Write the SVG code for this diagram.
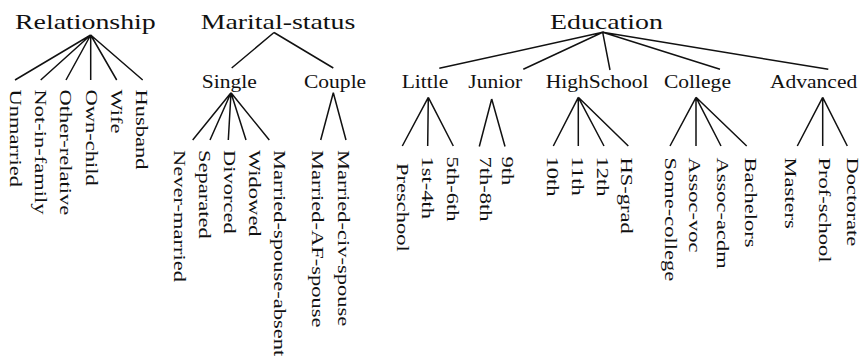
<svg xmlns="http://www.w3.org/2000/svg" width="861" height="361" viewBox="0 0 861 361">
<style>
text{font-family:"Liberation Serif","Times New Roman",serif;fill:#111}
.title{font-size:21.6px}
.mid{font-size:18.4px}
.leaf{font-size:17.6px}
.edge{fill:none;stroke:#111;stroke-width:1.5}
</style>
<rect width="861" height="361" fill="#fff"/>
<g id="connectors">
<path class="edge" d="M90.7,35L15,80M90.7,35L40.7,80M90.7,35L66,80M90.7,35L90.7,80M90.7,35L116.7,80M90.7,35L142.7,80"/>
<path class="edge" d="M274,32.5L231.7,68M274,32.5L333.3,68"/>
<path class="edge" d="M231,92.7L192.7,140M231,92.7L210,140M231,92.7L228.3,140M231,92.7L246,140M231,92.7L269.3,140"/>
<path class="edge" d="M333.3,92.7L320.7,140M333.3,92.7L346,140"/>
<path class="edge" d="M602.7,32.3L439.3,68.3M602.7,32.3L523.3,69.3M602.7,32.3L610,70M602.7,32.3L720,69.3M602.7,32.3L828.3,69.3"/>
<path class="edge" d="M428.3,97.3L402.3,146M428.3,97.3L427.7,146M428.3,97.3L453.3,146"/>
<path class="edge" d="M491.7,99L479.3,146.5M491.7,99L505,146.5"/>
<path class="edge" d="M578.3,97.3L553.3,146M578.3,97.3L578.3,146M578.3,97.3L604,146M578.3,97.3L628.3,146"/>
<path class="edge" d="M696,97.3L670,146M696,97.3L696,146M696,97.3L721,146M696,97.3L746.7,146"/>
<path class="edge" d="M822.7,97.3L797.3,146M822.7,97.3L822.7,146M822.7,97.3L847.3,146"/>
</g>
<g id="relationship"><text class="title" transform="translate(15,28.5) scale(1.29,1)">Relationship</text></g>
<g id="marital-status"><text class="title" transform="translate(200.7,29) scale(1.29,1)">Marital-status</text></g>
<g id="education"><text class="title" transform="translate(550,29) scale(1.29,1)">Education</text></g>
<g id="single"><text class="mid" transform="translate(201.7,88) scale(1.17,1)">Single</text></g>
<g id="couple"><text class="mid" transform="translate(304,88) scale(1.17,1)">Couple</text></g>
<g id="little"><text class="mid" transform="translate(401.7,87.5) scale(1.17,1)">Little</text></g>
<g id="junior"><text class="mid" transform="translate(468.3,87.5) scale(1.17,1)">Junior</text></g>
<g id="highschool"><text class="mid" transform="translate(545.7,87.5) scale(1.17,1)">HighSchool</text></g>
<g id="college"><text class="mid" transform="translate(664,87.5) scale(1.17,1)">College</text></g>
<g id="advanced"><text class="mid" transform="translate(770,87.5) scale(1.17,1)">Advanced</text></g>
<g id="unmarried"><text class="leaf" transform="translate(9.5,89.5) rotate(90) scale(1.28,1)">Unmarried</text></g>
<g id="not-in-family"><text class="leaf" transform="translate(35,89.5) rotate(90) scale(1.28,1)">Not-in-family</text></g>
<g id="other-relative"><text class="leaf" transform="translate(60,89.5) rotate(90) scale(1.28,1)">Other-relative</text></g>
<g id="own-child"><text class="leaf" transform="translate(85.5,89.5) rotate(90) scale(1.28,1)">Own-child</text></g>
<g id="wife"><text class="leaf" transform="translate(110.5,89.5) rotate(90) scale(1.28,1)">Wife</text></g>
<g id="husband"><text class="leaf" transform="translate(136,89.5) rotate(90) scale(1.28,1)">Husband</text></g>
<g id="never-married"><text class="leaf" transform="translate(173.5,150) rotate(90) scale(1.28,1)">Never-married</text></g>
<g id="separated"><text class="leaf" transform="translate(198.5,150) rotate(90) scale(1.28,1)">Separated</text></g>
<g id="divorced"><text class="leaf" transform="translate(223.5,150) rotate(90) scale(1.28,1)">Divorced</text></g>
<g id="widowed"><text class="leaf" transform="translate(248.5,150) rotate(90) scale(1.28,1)">Widowed</text></g>
<g id="married-spouse-absent"><text class="leaf" transform="translate(274,150) rotate(90) scale(1.28,1)">Married-spouse-absent</text></g>
<g id="married-af-spouse"><text class="leaf" transform="translate(312,150) rotate(90) scale(1.28,1)">Married-AF-spouse</text></g>
<g id="married-civ-spouse"><text class="leaf" transform="translate(338.3,150) rotate(90) scale(1.28,1)">Married-civ-spouse</text></g>
<g id="preschool"><text class="leaf" transform="translate(397,163) rotate(90) scale(1.28,1)">Preschool</text></g>
<g id="1st-4th"><text class="leaf" transform="translate(422,156.5) rotate(90) scale(1.28,1)">1st-4th</text></g>
<g id="5th-6th"><text class="leaf" transform="translate(447,156.5) rotate(90) scale(1.28,1)">5th-6th</text></g>
<g id="7th-8th"><text class="leaf" transform="translate(479.5,156.5) rotate(90) scale(1.28,1)">7th-8th</text></g>
<g id="9th"><text class="leaf" transform="translate(502,156.5) rotate(90) scale(1.28,1)">9th</text></g>
<g id="10th"><text class="leaf" transform="translate(547,156.5) rotate(90) scale(1.28,1)">10th</text></g>
<g id="11th"><text class="leaf" transform="translate(572,156.5) rotate(90) scale(1.28,1)">11th</text></g>
<g id="12th"><text class="leaf" transform="translate(597,156.5) rotate(90) scale(1.28,1)">12th</text></g>
<g id="hs-grad"><text class="leaf" transform="translate(620.5,157.5) rotate(90) scale(1.28,1)">HS-grad</text></g>
<g id="some-college"><text class="leaf" transform="translate(664.5,157.5) rotate(90) scale(1.28,1)">Some-college</text></g>
<g id="assoc-voc"><text class="leaf" transform="translate(688.5,157.5) rotate(90) scale(1.28,1)">Assoc-voc</text></g>
<g id="assoc-acdm"><text class="leaf" transform="translate(717,157.5) rotate(90) scale(1.28,1)">Assoc-acdm</text></g>
<g id="bachelors"><text class="leaf" transform="translate(745,157.5) rotate(90) scale(1.28,1)">Bachelors</text></g>
<g id="masters"><text class="leaf" transform="translate(785,157.5) rotate(90) scale(1.28,1)">Masters</text></g>
<g id="prof-school"><text class="leaf" transform="translate(818.5,157.5) rotate(90) scale(1.28,1)">Prof-school</text></g>
<g id="doctorate"><text class="leaf" transform="translate(847,157.5) rotate(90) scale(1.28,1)">Doctorate</text></g>
</svg>
